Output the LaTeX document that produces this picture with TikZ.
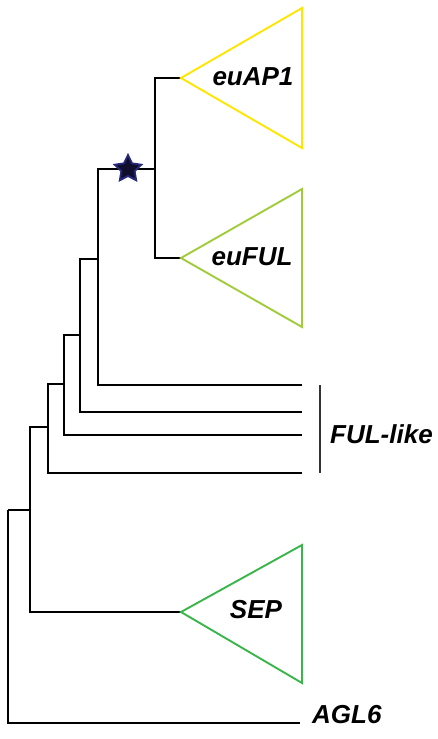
\documentclass[tikz,border=0pt]{standalone}
\usepackage{fontspec}
\setmainfont{Liberation Sans}
\usepackage{tikz}
\usetikzlibrary{shapes.geometric}
\definecolor{apyellow}{RGB}{255,230,0}
\definecolor{fulgreen}{RGB}{160,204,58}
\definecolor{sepgreen}{RGB}{58,181,74}
\definecolor{starblue}{RGB}{40,40,125}
\definecolor{stardark}{RGB}{15,15,45}

\begin{document}
\begin{tikzpicture}[x=1pt, y=-1pt,
	branch/.style={black, line width=2pt},
	clade/.style={line width=1.9pt, line join=miter},
	taxon/.style={font=\fontsize{26}{26}\selectfont\bfseries\itshape, inner sep=0pt}]
	\useasboundingbox (0,0) rectangle (438,739);
	% inner nodes of the tree
	\coordinate (root) at (8,510);
	\coordinate (n1) at (30,510);
	\coordinate (n2) at (48,427);
	\coordinate (n3) at (64,384);
	\coordinate (n4) at (80,335);
	\coordinate (n5) at (98,259);
	\coordinate (n6) at (155,169);
	% tips
	\coordinate (ap1) at (181,78);
	\coordinate (ful) at (181,258);
	\coordinate (sep) at (181,612);
	\coordinate (fl1) at (302,385);
	\coordinate (fl2) at (302,412);
	\coordinate (fl3) at (302,435);
	\coordinate (fl4) at (302,473);
	\coordinate (agl) at (300,723);
	% branches
	\draw[branch] (root) |- (n1);
	\draw[branch] (root) |- (agl);
	\draw[branch] (n1) |- (n2);
	\draw[branch] (n1) |- (sep);
	\draw[branch] (n2) |- (n3);
	\draw[branch] (n2) |- (fl4);
	\draw[branch] (n3) |- (n4);
	\draw[branch] (n3) |- (fl3);
	\draw[branch] (n4) |- (n5);
	\draw[branch] (n4) |- (fl2);
	\draw[branch] (n5) |- (n6);
	\draw[branch] (n5) |- (fl1);
	\draw[branch] (n6) |- (ap1);
	\draw[branch] (n6) |- (ful);
	% collapsed clades
	\draw[clade, apyellow] (ap1) -- (302,8) -- (302,148) -- cycle;
	\draw[clade, fulgreen] (ful) -- (302,189) -- (302,327) -- cycle;
	\draw[clade, sepgreen] (sep) -- (302,545) -- (302,683) -- cycle;
	\node[taxon] (ap1lab) at (253,77) {euAP1};
	\node[taxon] (fullab) at (252,257) {euFUL};
	\node[taxon] (seplab) at (256,610) {SEP};
	% FUL-like bracket
	\coordinate (bartop) at (320,385);
	\coordinate (barbot) at (320,473);
	\draw[black!80, line width=1.4pt] (bartop) -- (barbot);
	\node[taxon, anchor=west] (fllab) at (330,434) {FUL-like};
	\node[taxon, anchor=west] (agllab) at (312,715) {AGL6};
	% duplication
	\node[star, star points=5, star point ratio=2.0, minimum size=28pt, inner sep=0pt,
		fill=stardark, draw=starblue, line width=1.8pt] (dup) at (128,169) {};
\end{tikzpicture}
\end{document}
